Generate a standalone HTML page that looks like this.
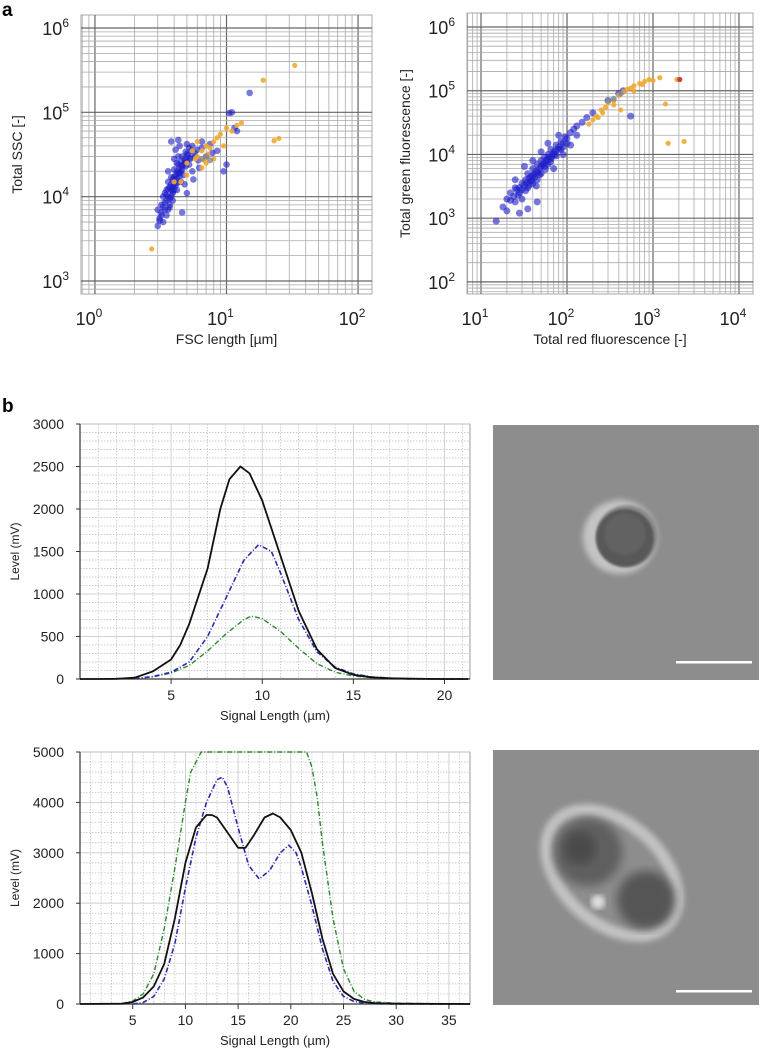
<!DOCTYPE html>
<html><head><meta charset="utf-8">
<style>
html,body{margin:0;padding:0;background:#fff;}
body{width:762px;height:1054px;overflow:hidden;font-family:"Liberation Sans",sans-serif;}
svg{position:absolute;left:0;top:0;}
</style></head>
<body>
<svg id="fig" width="762" height="1054" viewBox="0 0 762 1054" xmlns="http://www.w3.org/2000/svg">
<defs>
<filter id="blur2"><feGaussianBlur stdDeviation="3"/></filter>
<filter id="blur4"><feGaussianBlur stdDeviation="5"/></filter>
<filter id="blur1"><feGaussianBlur stdDeviation="1.2"/></filter>
</defs>
<text x="2" y="16" font-size="19" font-weight="bold">a</text>
<text x="2" y="412" font-size="19" font-weight="bold">b</text>

<g>
<rect x="493" y="425" width="266" height="255" fill="#8d8d8d"/>
<circle cx="620" cy="537" r="37" fill="#c4c4c4" filter="url(#blur2)"/>
<circle cx="627" cy="536" r="31" fill="#8d8d8d" filter="url(#blur1)"/>
<circle cx="625" cy="538" r="29" fill="#585858" filter="url(#blur1)"/>
<circle cx="625" cy="534" r="21" fill="#626262" filter="url(#blur1)"/>
<rect x="676" y="661" width="76" height="2.5" fill="#ffffff"/>
</g>
<g>
<rect x="493" y="750" width="266" height="255" fill="#8d8d8d"/>
<ellipse cx="612" cy="873" rx="76" ry="50" transform="rotate(42 612 873)" fill="none" stroke="#c2c2c2" stroke-width="12" filter="url(#blur2)"/>
<circle cx="588" cy="852" r="34" fill="#5e5e5e" filter="url(#blur4)"/>
<circle cx="580" cy="848" r="16" fill="#4a4a4a" filter="url(#blur4)"/>
<circle cx="646" cy="900" r="29" fill="#555" filter="url(#blur4)"/>
<circle cx="598" cy="902" r="7" fill="#e0e0e0" filter="url(#blur2)"/>
<rect x="676" y="990" width="76" height="2.5" fill="#ffffff"/>
</g>
</svg>
<script>
// ---------- data ----------
const ssc_blue_x=[3.0,3.1,3.2,3.3,3.2,3.4,3.5,3.4,3.6,3.7,3.8,3.6,3.9,4.0,4.1,4.0,4.2,4.3,4.4,4.5,4.3,4.6,4.8,4.9,5.0,5.2,5.0,5.5,4.7,4.5,4.2,3.9,3.7,3.5,5.2,5.8,6.0,6.5,5.5,4.8,3.3,3.0,4.0,3.8,4.3,6.5,7.5,8.5,9.5,10,11,10.5,15,12,11.5,4.6,5.0,5.6,6.2,7,7.8,3.6,4.1,4.4,3.5,3.8,4.2,4.6,4.9,3.9,4.4,4.7,5.3,3.4,3.5,3.6,3.7,3.8,3.9,4.0,4.1,4.2,4.3,3.6,3.7,3.8,3.9,4.0,4.1,4.2,4.4,4.5,4.6,4.8,5.0,5.1,5.4,3.2,3.1,3.3,4.9,5.3,5.7,6.1];
const ssc_blue_y=[4500,5500,6500,5000,8000,7000,9000,11000,10000,13000,12000,15000,16000,14000,18000,21000,20000,24000,22000,26000,30000,30000,28000,34000,32000,38000,42000,40000,18000,15000,12000,9000,7500,6000,24000,30000,36000,38000,20000,14000,10000,7000,28000,45000,47000,45000,42000,35000,20000,24000,100000,98000,170000,60000,65000,6500,11000,16000,22000,30000,33000,20000,36000,40000,12000,17000,25000,21000,27000,11000,19000,24000,29000,8500,10500,12500,9500,14000,13000,17000,15500,16500,19000,7000,8000,10000,11500,12000,13500,14500,17500,20000,23000,25000,26000,31000,35000,6000,5200,7600,23000,28000,33000,27000];
const ssc_or_x=[6,6.5,7,7.5,8,5.5,5,6,8.5,9,10,12,13,11,7,8,6.5,5.8,4.5,5,4,2.7,19,33,23,25,9.5,7.2,6.8];
const ssc_or_y=[30000,35000,40000,38000,45000,35000,25000,45000,50000,55000,65000,70000,75000,60000,25000,28000,22000,28000,15000,18000,15000,2400,240000,360000,46000,49000,40000,32000,27000];
const ssc_gray_x=[7,6.5,7.5];
const ssc_gray_y=[30000,28000,27000];

const fl_blue_x=[15,18,20,22,25,25,28,30,30,33,35,35,38,40,40,42,45,45,48,50,50,55,55,60,60,65,65,70,75,75,80,85,90,95,100,110,120,130,150,170,200,28,35,45,20,60,80,50,40,110,130,300,400,450,550,70,90,32,25,38,44,52,58,66,72,48,36,30,85,22,24,26,28,32,34,36,40,42,46,50,54,58,62,68,74,80,90,100,27,33,39,44,56,64];
const fl_blue_y=[900,1500,2000,2500,1800,3000,2500,3500,2000,4000,3000,5000,4500,6000,3500,5000,7000,4000,6000,8000,5000,9000,6500,10000,7000,12000,8500,11000,14000,9500,13000,16000,15000,19000,18000,22000,25000,28000,32000,38000,45000,1200,1400,1800,1300,15000,20000,11000,8000,14000,20000,70000,90000,100000,40000,6000,10000,6500,4000,3800,5500,7000,8000,9000,10000,4800,3300,2800,12000,1900,2200,2800,3000,3300,3600,4200,4700,4400,5200,6500,7200,8200,9000,10000,11500,12000,13000,15000,2300,2700,3900,3200,5800,7600];
const fl_or_x=[180,200,220,250,280,300,350,400,450,500,550,600,700,800,900,1200,1900,1400,1500,2300,420,260,600,230,350,750,1000];
const fl_or_y=[30000,35000,40000,50000,55000,65000,70000,85000,95000,105000,110000,120000,130000,140000,150000,160000,150000,62000,15000,16000,50000,45000,100000,38000,60000,125000,145000];
const fl_gray_x=[350,420,300];
const fl_gray_y=[75000,90000,70000];
const fl_red_x=[2050];
const fl_red_y=[150000];

const p1_black_x=[0,1,2,3,4,5,5.5,6,7,7.7,8.2,8.8,9.3,10,11,12,13,14,15,16,17,18,19,20,21.3];
const p1_black_y=[0,0,2,15,90,230,400,650,1300,2000,2350,2500,2420,2100,1450,800,350,130,50,20,8,3,1,0,0];
const p1_blue_x=[3,4,5,6,7,8,9,9.8,10.5,11,12,13,14,15,16,17,18,20,21.3];
const p1_blue_y=[5,30,80,200,500,950,1400,1580,1500,1250,700,320,140,60,25,10,5,0,0];
const p1_green_x=[3,4,5,6,7,8,9,9.4,10,11,12,13,14,15,16,17,18,21.3];
const p1_green_y=[5,25,70,160,330,530,700,740,710,560,360,180,80,35,15,5,0,0];

const p2_black_x=[0,4,5,6,7,8,9,10,11,12,12.5,13,14,15,15.7,16.5,17.5,18.3,19,20,21,22,23,24,25,26,27,28,30,37];
const p2_black_y=[0,5,40,130,350,800,1700,2800,3500,3750,3750,3700,3400,3100,3100,3350,3700,3780,3700,3450,3000,2200,1300,600,250,100,40,15,5,0];
const p2_blue_x=[5,6,7,8,9,10,11,12,13,13.5,14,15,16,17,18,19,19.8,20.5,21,22,23,24,25,26,27,28,30,37];
const p2_blue_y=[0,30,150,500,1200,2300,3300,4000,4450,4500,4300,3500,2750,2480,2650,3000,3150,3000,2700,1950,1100,450,150,50,15,5,0,0];
const p2_green_x=[4,5,6,7,8,9,10,10.5,11.5,21.5,22,22.5,23,24,25,26,27,28,30,33,37];
const p2_green_y=[10,60,200,600,1500,2700,4000,4600,5000,5000,4700,4100,3200,1700,700,250,90,40,15,5,0];

const ssc_xticks=[0,1,2], ssc_yticks=[3,4,5,6];
const fl_xticks=[1,2,3,4], fl_yticks=[2,3,4,5,6];
const p1_xticks=[5,10,15,20], p1_yticks=[0,500,1000,1500,2000,2500,3000];
const p2_xticks=[5,10,15,20,25,30,35], p2_yticks=[0,1000,2000,3000,4000,5000];

// ---------- drawing ----------
const NS='http://www.w3.org/2000/svg';
const svg=document.getElementById('fig');
function mk(tag,attrs,parent){const e=document.createElementNS(NS,tag);for(const k in attrs)e.setAttribute(k,attrs[k]);(parent||svg).appendChild(e);return e;}
function logScale(l0,l1,p0,p1){return v=>p0+(Math.log10(v)-l0)/(l1-l0)*(p1-p0);}
function linScale(d0,d1,p0,p1){return v=>p0+(v-d0)/(d1-d0)*(p1-p0);}

function logPlot(name,box,xl,yl,xt,yt,xTitle,yTitle,titleX,series){
  const g=mk('g',{});
  
  
  const X=logScale(xl[0],xl[1],box.x0,box.x1), Y=logScale(yl[0],yl[1],box.y1,box.y0);
  mk('rect',{x:box.x0,y:box.y0,width:box.x1-box.x0,height:box.y1-box.y0,fill:'#fff',stroke:'#aaa','stroke-width':1},g);
  for(let d=Math.floor(xl[0]);d<=Math.ceil(xl[1]);d++)for(let m=1;m<10;m++){const v=m*Math.pow(10,d);const px=X(v);if(px<box.x0||px>box.x1)continue;
    mk('line',{x1:px,x2:px,y1:box.y0,y2:box.y1,stroke:m==1?'#666':'#aaa','stroke-width':m==1?1.2:0.8},g);}
  for(let d=Math.floor(yl[0]);d<=Math.ceil(yl[1]);d++)for(let m=1;m<10;m++){const v=m*Math.pow(10,d);const py=Y(v);if(py<box.y0||py>box.y1)continue;
    mk('line',{y1:py,y2:py,x1:box.x0,x2:box.x1,stroke:m==1?'#666':'#aaa','stroke-width':m==1?1.2:0.8},g);}
  series.forEach(s=>{for(let i=0;i<s.x.length;i++){const c=mk('circle',{cx:X(s.x[i]),cy:Y(s.y[i]),r:s.r,fill:s.c,'fill-opacity':s.o},g);
    
    }});
  xt.forEach(t=>{const tx=mk('text',{x:X(Math.pow(10,t))-6,y:box.y1+31,'font-size':18,'text-anchor':'middle',fill:'#222'},g);
    
    
    tx.textContent='10';const s=mk('tspan',{dy:-8,'font-size':12},tx);s.textContent=t;});
  yt.forEach(t=>{const tx=mk('text',{x:box.x0-12,y:Y(Math.pow(10,t))+7,'font-size':18,'text-anchor':'end',fill:'#222'},g);
    
    
    tx.textContent='10';const s=mk('tspan',{dy:-8,'font-size':12},tx);s.textContent=t;});
  const xtl=mk('text',{x:(box.x0+box.x1)/2,y:box.y1+50,'font-size':14,'text-anchor':'middle',fill:'#222'},g);
  
  
  xtl.textContent=xTitle;
  const cy=(box.y0+box.y1)/2;
  const ytl=mk('text',{x:titleX,y:cy,'font-size':14,'text-anchor':'middle',fill:'#222',transform:`rotate(-90 ${titleX} ${cy})`},g);
  
  
  ytl.textContent=yTitle;
}

logPlot('ssc-vs-fsc-scatter',{x0:81,x1:372,y0:15,y1:294},[-0.106,2.106],[2.846,6.154],ssc_xticks,ssc_yticks,'FSC length [µm]','Total SSC [-]',22,[
 {x:ssc_blue_x,y:ssc_blue_y,c:'#1c1cc8',o:0.6,r:3.3,n:'ssc-blue-point'},
 {x:ssc_or_x,y:ssc_or_y,c:'#f0a830',o:0.9,r:2.6,n:'ssc-orange-point'},
 {x:ssc_gray_x,y:ssc_gray_y,c:'#888',o:0.8,r:3,n:'ssc-gray-point'}]);
logPlot('green-vs-red-fluorescence-scatter',{x0:467,x1:753,y0:13,y1:294},[0.837,4.163],[1.81,6.22],fl_xticks,fl_yticks,'Total red fluorescence [-]','Total green fluorescence [-]',410,[
 {x:fl_blue_x,y:fl_blue_y,c:'#1c1cc8',o:0.6,r:3.5,n:'fl-blue-point'},
 {x:fl_or_x,y:fl_or_y,c:'#f0a830',o:0.9,r:2.6,n:'fl-orange-point'},
 {x:fl_gray_x,y:fl_gray_y,c:'#7a8aa0',o:0.8,r:3,n:'fl-gray-point'},
 {x:fl_red_x,y:fl_red_y,c:'#c03030',o:0.9,r:2.6,n:'fl-red-point'}]);

function linePlot(name,box,xd,yd,xt,yt,xminor,yminor,series){
  const g=mk('g',{});
  
  
  const X=linScale(xd[0],xd[1],box.x0,box.x1), Y=linScale(yd[0],yd[1],box.y1,box.y0);
  mk('rect',{x:box.x0,y:box.y0,width:box.x1-box.x0,height:box.y1-box.y0,fill:'#fff',stroke:'#999','stroke-width':1},g);
  for(let v=xminor;v<xd[1];v+=xminor){mk('line',{x1:X(v),x2:X(v),y1:box.y0,y2:box.y1,stroke:'#bbb','stroke-width':0.7,'stroke-dasharray':'1.5,1.5'},g);}
  for(let v=yminor;v<yd[1];v+=yminor){mk('line',{y1:Y(v),y2:Y(v),x1:box.x0,x2:box.x1,stroke:'#bbb','stroke-width':0.7,'stroke-dasharray':'1.5,1.5'},g);}
  xt.forEach(t=>{mk('line',{x1:X(t),x2:X(t),y1:box.y0,y2:box.y1,stroke:'#ccc','stroke-width':0.8},g);
    mk('line',{x1:X(t),x2:X(t),y1:box.y1,y2:box.y1+5,stroke:'#333'},g);
    const tx=mk('text',{x:X(t),y:box.y1+21,'font-size':14,'text-anchor':'middle',fill:'#222'},g);
    
    
    tx.textContent=t;});
  yt.forEach(t=>{mk('line',{y1:Y(t),y2:Y(t),x1:box.x0,x2:box.x1,stroke:'#ccc','stroke-width':0.8},g);
    mk('line',{y1:Y(t),y2:Y(t),x1:box.x0-4,x2:box.x0,stroke:'#333'},g);
    const tx=mk('text',{x:box.x0-16,y:Y(t)+5,'font-size':14,'text-anchor':'end',fill:'#222'},g);
    
    
    tx.textContent=t;});
  mk('line',{x1:box.x0,x2:box.x0,y1:box.y0,y2:box.y1,stroke:'#333','stroke-width':1.2},g);
  mk('line',{x1:box.x0,x2:box.x1,y1:box.y1,y2:box.y1,stroke:'#333','stroke-width':1.2},g);
  series.forEach(s=>{let d='';for(let i=0;i<s.x.length;i++){d+=(i?'L':'M')+X(s.x[i]).toFixed(1)+','+Y(s.y[i]).toFixed(1);}
    const p=mk('path',{d:d,fill:'none',stroke:s.c,'stroke-width':s.w,'stroke-dasharray':s.dash||'none','stroke-linejoin':'round'},g);
    
    });
  const xtl=mk('text',{x:(box.x0+box.x1)/2,y:box.y1+41,'font-size':13,'text-anchor':'middle',fill:'#222'},g);
  
  
  xtl.textContent='Signal Length (µm)';
  const cy=(box.y0+box.y1)/2;
  const ytl=mk('text',{x:19,y:cy,'font-size':12,'text-anchor':'middle',fill:'#222',transform:`rotate(-90 19 ${cy})`},g);
  
  
  ytl.textContent='Level (mV)';
}
linePlot('single-cell-profile-chart',{x0:80,x1:470,y0:424,y1:679},[0,21.4],[0,3000],p1_xticks,p1_yticks,1,100,[
 {x:p1_green_x,y:p1_green_y,c:'#2a8a2a',w:1.4,dash:'5,2,1,2',n:'green-fluorescence-line'},
 {x:p1_blue_x,y:p1_blue_y,c:'#2a2ab0',w:1.6,dash:'5,2,1,2',n:'blue-line'},
 {x:p1_black_x,y:p1_black_y,c:'#111',w:1.8,n:'scatter-signal-line'}]);
linePlot('budding-cell-profile-chart',{x0:80,x1:470,y0:752,y1:1004},[0,37],[0,5000],p2_xticks,p2_yticks,1,200,[
 {x:p2_green_x,y:p2_green_y,c:'#2a8a2a',w:1.4,dash:'5,2,1,2',n:'green-fluorescence-line'},
 {x:p2_blue_x,y:p2_blue_y,c:'#2a2ab0',w:1.6,dash:'5,2,1,2',n:'blue-line'},
 {x:p2_black_x,y:p2_black_y,c:'#111',w:1.8,n:'scatter-signal-line'}]);
</script>
</body></html>
